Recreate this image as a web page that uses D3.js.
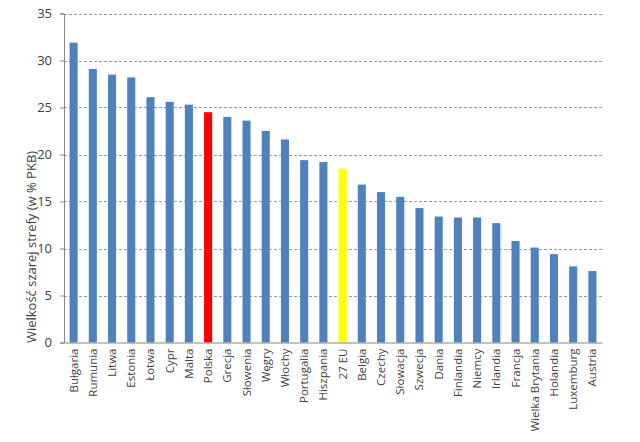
<!DOCTYPE html>
<html>
<head>
<meta charset="utf-8">
<script src="https://cdn.jsdelivr.net/npm/d3@7"></script>
<style>
  body { margin: 0; background: #fff; }
  svg text { font-family: "Open Sans", "DejaVu Sans", sans-serif; fill: #404040; }
</style>
</head>
<body>
<svg id="chart" width="640" height="442"></svg>
<script>
// Shadow economy size per country (% GDP)
var countries = ["Bułgaria", "Rumunia", "Litwa", "Estonia", "Łotwa", "Cypr", "Malta", "Polska",
  "Grecja", "Słowenia", "Węgry", "Włochy", "Portugalia", "Hiszpania", "27 EU", "Belgia",
  "Czechy", "Słowacja", "Szwecja", "Dania", "Finlandia", "Niemcy", "Irlandia", "Francja",
  "Wielka Brytania", "Holandia", "Luxemburg", "Austria"];
var values = [31.9, 29.1, 28.5, 28.2, 26.1, 25.6, 25.3, 24.5,
  24.0, 23.6, 22.5, 21.6, 19.4, 19.2, 18.5, 16.8,
  16.0, 15.5, 14.3, 13.4, 13.3, 13.3, 12.7, 10.8,
  10.1, 9.4, 8.1, 7.6];
var yTicks = [0, 5, 10, 15, 20, 25, 30, 35];
var yTitle = "Wielkość szarej strefy (w % PKB)";

var svg = d3.select("#chart");
var plotLeft = 64, plotRight = 602, plotTop = 13.5, plotBottom = 342.5;

var x = d3.scaleBand().domain(countries).range([plotLeft, plotRight]).paddingInner(0.58).paddingOuter(0.29);
var y = d3.scaleLinear().domain([0, 35]).range([plotBottom, plotTop]);

// dashed grid lines
svg.append("g").selectAll("line")
  .data(yTicks.filter(function(d) { return d > 0; }))
  .enter().append("line")
  .attr("x1", plotLeft).attr("x2", plotRight)
  .attr("y1", function(d) { return Math.round(y(d)) + 0.5; })
  .attr("y2", function(d) { return Math.round(y(d)) + 0.5; })
  .attr("stroke", "#9a9a9a").attr("stroke-dasharray", "3,2");

// bars
svg.append("g").selectAll("rect")
  .data(countries)
  .enter().append("rect")
  .attr("x", function(d) { return x(d); })
  .attr("width", x.bandwidth())
  .attr("y", function(d, i) { return y(values[i]); })
  .attr("height", function(d, i) { return y(0) - y(values[i]); })
  .attr("fill", function(d) {
    if (d == "Polska") return "#ff0000";
    if (d == "27 EU") return "#ffff00";
    return "#4f81bd";
  });

// y axis
var yAxis = svg.append("g")
  .attr("transform", "translate(" + plotLeft + ",0)")
  .call(d3.axisLeft(y).tickValues(yTicks).tickSize(4).tickPadding(8));
yAxis.select(".domain").attr("stroke", "#868686");
yAxis.selectAll(".tick line").attr("stroke", "#868686");
yAxis.selectAll("text").style("font-size", "13px").attr("fill", "#404040");

// x axis
var xAxis = svg.append("g")
  .attr("transform", "translate(0," + plotBottom + ")")
  .call(d3.axisBottom(x).tickSize(0).tickPadding(6));
xAxis.select(".domain").attr("stroke", "#868686");
xAxis.selectAll("text")
  .style("font-size", "11.5px").attr("fill", "#404040")
  .attr("text-anchor", "end")
  .attr("dy", "0.35em")
  .attr("transform", "translate(0,6) rotate(-90)")
  .attr("x", 0).attr("y", 0);

// y title
svg.append("text")
  .attr("transform", "translate(31,247) rotate(-90)")
  .attr("text-anchor", "middle")
  .attr("dy", "0.35em")
  .style("font-size", "13px")
  .text(yTitle);
</script>
</body>
</html>
